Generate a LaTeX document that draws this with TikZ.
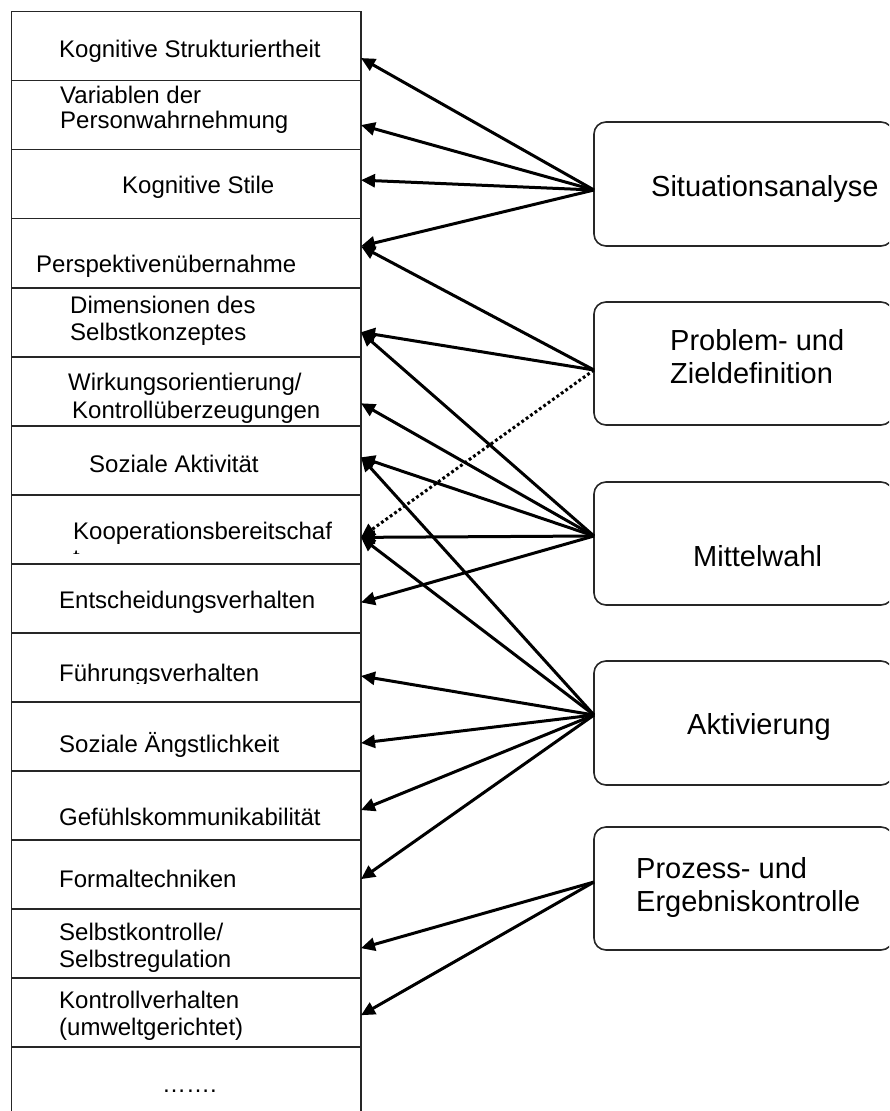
\documentclass[tikz,border=0pt]{standalone}
\usepackage{fontspec}
\setmainfont{Liberation Sans}
\usetikzlibrary{arrows.meta}
\begin{document}
\begin{tikzpicture}[x=1pt,y=-1pt,
  rowbox/.style={draw=black!85, line width=1.6pt, minimum width=349.5pt,
    minimum height=69.05pt, inner sep=0pt, outer sep=0pt},
  stage/.style={draw=black!85, line width=1.6pt, rounded corners=12pt,
    minimum width=299pt, inner sep=0pt, outer sep=0pt},
  lbl/.style={anchor=base west, inner sep=0pt, font=\fontsize{24}{27}\selectfont},
  slbl/.style={anchor=base west, inner sep=0pt, font=\fontsize{29}{33}\selectfont},
  link/.style={line width=3pt, -{Triangle[length=14pt,width=13pt]}},
  weak/.style={link, dash pattern=on 2.8pt off 2.6pt}]
\clip (0,0) rectangle (889,1111);

% column of competences
\foreach \i in {1,...,15}
  \node[rowbox] (r\i) at (186.25,{11.5+69.05*(\i-0.5)}) {};
\node[rowbox, minimum height=100pt, anchor=north] (r16) at (186.25,1047.25) {};

\node[lbl] (t1)  at (59,57)  {Kognitive Strukturiertheit};
\node[lbl] (t2a) at (60,103) {Variablen der};
\node[lbl] (t2b) at (60,128) {Personwahrnehmung};
\node[lbl] (t3)  at (122,193) {Kognitive Stile};
\node[lbl] (t4)  at (36,272) {Perspektivenübernahme};
\node[lbl] (t5a) at (70,313) {Dimensionen des};
\node[lbl] (t5b) at (70,340) {Selbstkonzeptes};
\node[lbl] (t6a) at (68,390) {Wirkungsorientierung/};
\node[lbl] (t6b) at (72,418) {Kontrollüberzeugungen};
\node[lbl] (t7)  at (89,472) {Soziale Aktivität};
\node[lbl] (t8)  at (73,539) {Kooperationsbereitschaf};
\begin{scope}
  \clip (0,495) rectangle (361,553.5);
  \node[lbl] (t8b) at (73,566.5) {t};
\end{scope}
\node[lbl] (t9)  at (59,608) {Entscheidungsverhalten};
\begin{scope}
  \clip (0,633) rectangle (361,683.5);
  \node[lbl] (t10) at (59,681) {Führungsverhalten};
\end{scope}
\node[lbl] (t11) at (59,752) {Soziale Ängstlichkeit};
\node[lbl] (t12) at (59,825) {Gefühlskommunikabilität};
\node[lbl] (t13) at (59,887) {Formaltechniken};
\node[lbl] (t14a) at (59,940) {Selbstkontrolle/};
\node[lbl] (t14b) at (59,967) {Selbstregulation};
\node[lbl] (t15a) at (59,1008) {Kontrollverhalten};
\node[lbl] (t15b) at (59,1035) {(umweltgerichtet)};
\node[lbl] (t16) at (162,1092) {…….};

% phases of the process
\node[stage, minimum height=124pt] (sit) at (743.5,184)   {};
\node[stage, minimum height=123pt] (pro) at (743.5,363.5) {};
\node[stage, minimum height=123pt] (mit) at (743.5,543.5) {};
\node[stage, minimum height=124pt] (akt) at (743.5,723)   {};
\node[stage, minimum height=123pt] (erg) at (743.5,888.5) {};

\node[slbl] at (651,196) {Situationsanalyse};
\node[slbl] at (670,350) {Problem- und};
\node[slbl] at (670,383) {Zieldefinition};
\node[slbl] at (693,566) {Mittelwahl};
\node[slbl] at (687,734) {Aktivierung};
\node[slbl] at (636,878) {Prozess- und};
\node[slbl] at (636,911) {Ergebniskontrolle};

% start points of the connectors
\coordinate (sSit) at ([yshift=-6pt]sit.west);
\coordinate (sPro) at ([yshift=-6.5pt]pro.west);
\coordinate (sMit) at ([yshift=7.5pt]mit.west);
\coordinate (sAkt) at ([yshift=8pt]akt.west);
\coordinate (sErg) at ([yshift=6.5pt]erg.west);

% Situationsanalyse
\draw[link] (sSit) -- ([yshift=-12pt]r1.east);
\draw[link] (sSit) -- ([yshift=-10pt]r2.east);
\draw[link] (sSit) -- ([yshift=4pt]r3.east);
\draw[link] (sSit) -- ([yshift=7pt]r4.east);
% Problem- und Zieldefinition
\draw[link] (sPro) -- ([yshift=7pt]r4.east);
\draw[link] (sPro) -- ([yshift=-10pt]r5.east);
\draw[weak] (sPro) -- ([yshift=-8pt]r8.east);
% Mittelwahl
\draw[link] (sMit) -- ([yshift=-10pt]r5.east);
\draw[link] (sMit) -- ([yshift=-12pt]r6.east);
\draw[link] (sMit) -- ([yshift=3pt]r7.east);
\draw[link] (sMit) -- ([yshift=-8pt]r8.east);
\draw[link] (sMit) -- ([yshift=-4pt]r9.east);
% Aktivierung
\draw[link] (sAkt) -- ([yshift=3pt]r7.east);
\draw[link] (sAkt) -- ([yshift=-8pt]r8.east);
\draw[link] (sAkt) -- ([yshift=-8.5pt]r10.east);
\draw[link] (sAkt) -- ([yshift=-6.5pt]r11.east);
\draw[link] (sAkt) -- ([yshift=-4.5pt]r12.east);
\draw[link] (sAkt) -- ([yshift=-4.5pt]r13.east);
% Prozess- und Ergebniskontrolle
\draw[link] (sErg) -- ([yshift=-4.5pt]r14.east);
\draw[link] (sErg) -- ([yshift=-2.5pt]r15.east);
\end{tikzpicture}
\end{document}
